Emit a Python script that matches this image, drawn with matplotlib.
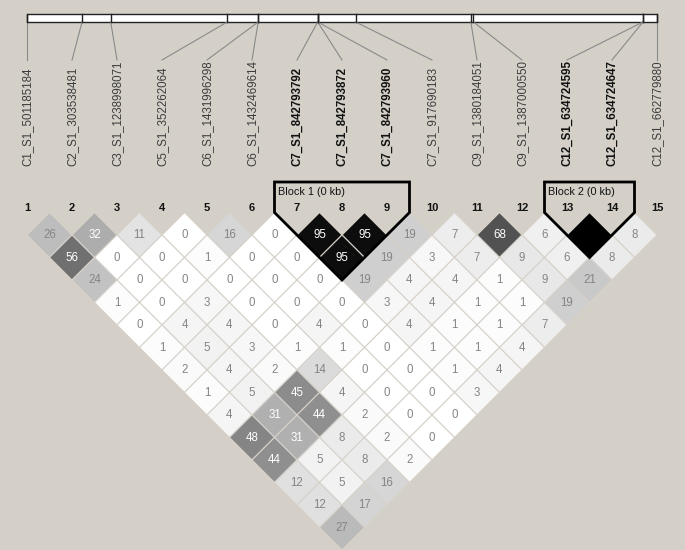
import matplotlib.pyplot as plt
from matplotlib.patches import Polygon, Rectangle
from matplotlib.collections import PolyCollection

plt.rcParams['font.family'] = ['Liberation Sans', 'DejaVu Sans']

snp_names = ["C1_S1_501185184", "C2_S1_303538481", "C3_S1_1238998071", "C5_S1_352262064",
             "C6_S1_1431996298", "C6_S1_1432469614", "C7_S1_842793792", "C7_S1_842793872",
             "C7_S1_842793960", "C7_S1_917690183", "C9_S1_1380184051", "C9_S1_1387000550",
             "C12_S1_634724595", "C12_S1_634724647", "C12_S1_662779880"]
in_block = [False, False, False, False, False, False, True, True, True,
            False, False, False, True, True, False]
# relative position of each marker along the map bar (0 = first, 1 = last)
map_pos = [0.0, 0.0874, 0.1329, 0.3178, 0.3670, 0.3670, 0.4614, 0.4614, 0.4614,
           0.5217, 0.7045, 0.7087, 0.9777, 0.9777, 1.0]

# r2 (x100); ld_rows[d-1][i] is the pair (SNP i+1, SNP i+1+d)
ld_rows = [
    [26, 32, 11, 0, 16, 0, 95, 95, 19, 7, 68, 6, 100, 8],
    [56, 0, 0, 1, 0, 0, 95, 19, 3, 7, 9, 6, 8],
    [24, 0, 0, 0, 0, 0, 19, 4, 4, 1, 9, 21],
    [1, 0, 3, 0, 0, 0, 3, 4, 1, 1, 19],
    [0, 4, 4, 0, 4, 0, 4, 1, 1, 7],
    [1, 5, 3, 1, 1, 0, 1, 1, 4],
    [2, 4, 2, 14, 0, 0, 1, 4],
    [1, 5, 45, 4, 0, 0, 3],
    [4, 31, 44, 2, 0, 0],
    [48, 31, 8, 2, 0],
    [44, 5, 8, 2],
    [12, 5, 16],
    [12, 17],
    [27],
]
block_names = ["Block 1 (0 kb)", "Block 2 (0 kb)"]
block_first = [7, 13]
block_last = [9, 14]

BG = '#d4d0c8'
PX = 45.0  # pixels per marker step
n = len(snp_names)

fig = plt.figure(figsize=(6.85, 5.5), dpi=100, facecolor=BG)
ax = fig.add_axes([0, 0, 1, 1])
ax.set_facecolor(BG)
ax.set_xlim(1 - 27 / PX, 1 + (685 - 27) / PX)
ax.set_ylim(550 / PX, 0)
ax.axis('off')

top_row = 235 / PX  # centre of first diamond row

# LD diamonds
polys, faces = [], []
for d, row in enumerate(ld_rows, start=1):
    for k, val in enumerate(row):
        i = k + 1
        cx = i + d / 2
        cy = top_row + (d - 1) / 2
        polys.append([(cx - 0.5, cy), (cx, cy - 0.5), (cx + 0.5, cy), (cx, cy + 0.5)])
        g = 1 - val / 100
        faces.append((g, g, g))
        if val < 100:
            ax.text(cx, cy, str(val), ha='center', va='center', fontsize=8.3,
                    color='white' if val >= 30 else '#858585', zorder=3)
ax.add_collection(PolyCollection(polys, facecolors=faces, edgecolors='#d6d2ca',
                                 linewidths=0.8, zorder=1))

# map bar
bar_top, bar_bot = 14 / PX, 22 / PX
ax.add_patch(Rectangle((1, bar_top), n - 1, bar_bot - bar_top, facecolor='white',
                       edgecolor='#222222', lw=1, zorder=2))
for i in range(n):
    mx = 1 + map_pos[i] * (n - 1)
    ax.plot([mx, mx], [bar_top, bar_bot], color='#222222', lw=1, zorder=3)
    ax.plot([mx, i + 1], [bar_bot, 60 / PX], color='#8a8a8a', lw=0.8, zorder=2)
    ax.text(i + 1, 166 / PX, snp_names[i], rotation=90, ha='center', va='bottom',
            fontsize=8.3, fontweight='bold' if in_block[i] else 'normal',
            color='#111111' if in_block[i] else '#3c3c3c')
    ax.text(i + 1, 208 / PX, str(i + 1), ha='center', va='center', fontsize=8,
            fontweight='bold', color='#111111')

# haplotype blocks
for name, a, b in zip(block_names, block_first, block_last):
    d = b - a
    bottom = top_row + (d - 1) / 2 + 0.5
    verts = [(a - 0.5, 182 / PX), (b + 0.5, 182 / PX), (b + 0.5, top_row - 0.5),
             ((a + b) / 2, bottom), (a - 0.5, top_row - 0.5)]
    ax.add_patch(Polygon(verts, closed=True, fill=False, edgecolor='black', lw=2,
                         joinstyle='miter', zorder=4))
    ax.text(a - 0.5 + 3 / PX, 192 / PX, name, ha='left', va='center', fontsize=7.8,
            color='#111111', zorder=5)

fig.savefig('out.png', dpi=100, facecolor=BG)
